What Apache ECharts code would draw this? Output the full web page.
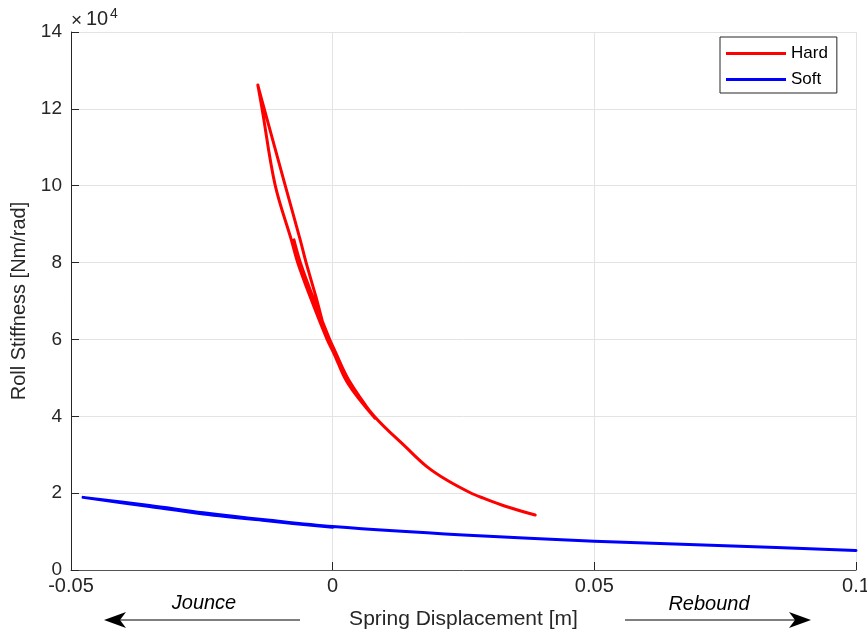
<!DOCTYPE html>
<html>
<head>
<meta charset="utf-8">
<script src="https://cdn.jsdelivr.net/npm/echarts@6/dist/echarts.min.js"></script>
<style>
  html, body { margin: 0; padding: 0; background: #ffffff; overflow: hidden; }
  #chart { width: 867px; height: 636px; }
</style>
</head>
<body>
<div id="chart"></div>
<script>
// Axis ticks
const xTickLabels = ['-0.05', '0', '0.05', '0.1'];
const yTickLabels = ['0', '2', '4', '6', '8', '10', '12', '14'];

// Hard spring: roll stiffness vs. spring displacement (one traced path through the loop)
const hardDisp = [
  0.0387, 0.0330, 0.0288, 0.0263, 0.0218, 0.0180, 0.0142, 0.0079,
  0.0027, 0.0000, -0.0011, -0.0043, -0.0067, -0.0079, -0.0110, -0.0135, -0.0143,
  -0.0131, -0.0091, -0.0062, -0.0051, -0.0032, -0.0010, 0.0000, 0.0028, 0.0081,
  0.0031, 0.0003, -0.0006, -0.0038, -0.0062, -0.0074
];
const hardStiff = [
  14300, 16600, 18700, 20100, 23400, 26900, 31700, 40100,
  49400, 57000, 60100, 71100, 80100, 85900, 100200, 120100, 126200,
  120100, 100200, 85900, 80100, 71100, 60100, 57300, 48800, 39500,
  49400, 57400, 60100, 71100, 80100, 85900
];

// Soft spring
const softDisp = [
  0.1000, 0.0750, 0.0500, 0.0250, 0.0000, -0.0125, -0.0247, -0.0350, -0.0477,
  -0.0350, -0.0247, -0.0125, 0.0000
];
const softStiff = [
  5100, 6300, 7500, 9100, 11300, 13000, 14900, 16800, 18900,
  16500, 14600, 12800, 11100
];

const pairs = (xs, ys) => xs.map((x, i) => [x, ys[i]]);

const textColor = '#262626';
const fontFamily = '"Liberation Sans", Arial, Helvetica, sans-serif';

const chart = echarts.init(document.getElementById('chart'), null, { renderer: 'canvas', width: 867, height: 636 });

chart.setOption({
  animation: false,
  backgroundColor: '#ffffff',
  textStyle: { fontFamily: fontFamily, color: textColor },
  grid: { left: 71, right: 11, top: 32, bottom: 66, containLabel: false, outerBoundsMode: 'none' },
  xAxis: {
    type: 'value',
    min: -0.05, max: 0.1, interval: 0.05,
    name: 'Spring Displacement [m]',
    nameLocation: 'middle',
    nameGap: 39,
    nameTextStyle: { fontSize: 21, color: textColor, fontFamily: fontFamily },
    axisLine: { show: true, onZero: false, lineStyle: { color: '#555555', width: 1 } },
    axisTick: { show: true, inside: true, length: 8, lineStyle: { color: '#262626' } },
    axisLabel: {
      fontSize: 20, color: textColor, margin: 6, fontFamily: fontFamily,
      formatter: (v, i) => xTickLabels[i]
    },
    splitLine: { show: true, lineStyle: { color: '#e3e3e3', width: 1 } }
  },
  yAxis: {
    type: 'value',
    min: 0, max: 140000, interval: 20000,
    name: 'Roll Stiffness [Nm/rad]',
    nameLocation: 'middle',
    nameGap: 39,
    nameRotate: 90,
    nameTextStyle: { fontSize: 20, color: textColor, fontFamily: fontFamily },
    axisLine: { show: true, onZero: false, lineStyle: { color: '#262626', width: 1 } },
    axisTick: { show: true, inside: true, length: 8, lineStyle: { color: '#262626' } },
    axisLabel: {
      fontSize: 19, color: textColor, margin: 9, fontFamily: fontFamily,
      formatter: (v, i) => yTickLabels[i]
    },
    splitLine: { show: true, lineStyle: { color: '#e3e3e3', width: 1 } }
  },
  legend: {
    orient: 'vertical',
    left: 720, top: 37,
    padding: [8, 9, 5, 6],
    itemGap: 9,
    itemWidth: 60,
    itemHeight: 3,
    icon: 'rect',
    borderColor: '#262626',
    borderWidth: 1,
    borderRadius: 0,
    backgroundColor: '#ffffff',
    textStyle: { fontSize: 17, color: '#000000', fontFamily: fontFamily, lineHeight: 17 },
    data: ['Hard', 'Soft']
  },
  series: [
    {
      name: 'Hard', type: 'line',
      data: pairs(hardDisp, hardStiff),
      showSymbol: false, symbol: 'none',
      smooth: 0.35,
      lineStyle: { color: '#ff0000', width: 3, join: 'round', cap: 'round' },
      itemStyle: { color: '#ff0000' },
      z: 3
    },
    {
      name: 'Soft', type: 'line',
      data: pairs(softDisp, softStiff),
      showSymbol: false, symbol: 'none',
      smooth: 0.35,
      lineStyle: { color: '#0000ff', width: 3, join: 'round', cap: 'round' },
      itemStyle: { color: '#0000ff' },
      z: 3
    }
  ],
  graphic: [
    // exponent of the y tick labels
    { type: 'text', left: 71, top: 11, style: { text: '×', font: '19px ' + fontFamily, fill: textColor } },
    { type: 'text', left: 86, top: 9, style: { text: '10', font: '20px ' + fontFamily, fill: textColor } },
    { type: 'text', left: 110, top: 7, style: { text: '4', font: '14px ' + fontFamily, fill: textColor } },
    // direction notes under the x axis
    { type: 'text', x: 204, y: 603, style: { text: 'Jounce', font: 'italic 20px ' + fontFamily, fill: '#000', align: 'center', verticalAlign: 'middle' } },
    { type: 'text', x: 709, y: 604, style: { text: 'Rebound', font: 'italic 20px ' + fontFamily, fill: '#000', align: 'center', verticalAlign: 'middle' } },
    { type: 'line', shape: { x1: 120, y1: 620, x2: 300, y2: 620 }, style: { stroke: '#000', lineWidth: 1 } },
    { type: 'polygon', shape: { points: [[104, 620], [126, 612], [120, 620], [126, 628]] }, style: { fill: '#000' } },
    { type: 'line', shape: { x1: 625, y1: 620, x2: 795, y2: 620 }, style: { stroke: '#000', lineWidth: 1 } },
    { type: 'polygon', shape: { points: [[811, 620], [789, 612], [795, 620], [789, 628]] }, style: { fill: '#000' } }
  ]
});
</script>
</body>
</html>
